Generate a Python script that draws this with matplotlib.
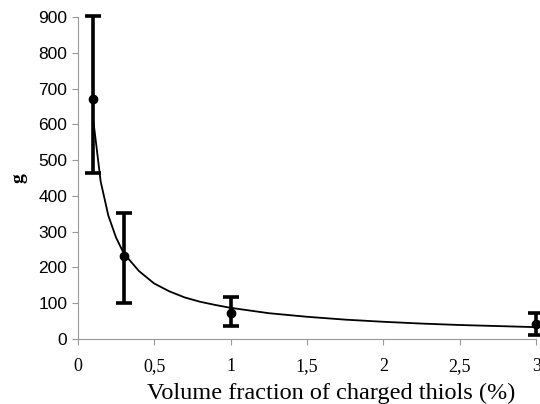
import matplotlib
matplotlib.use("Agg")
import matplotlib.pyplot as plt

# measured points with error bars
x_pts = [0.1, 0.3, 1.0, 3.0]
g_pts = [670, 233, 73, 41]
g_low = [464, 100, 37, 11]
g_high = [902, 351, 116, 72]

# fitted curve
x_fit = [0.1, 0.15, 0.2, 0.25, 0.3, 0.4, 0.5, 0.6, 0.7, 0.8, 0.9, 1.0,
         1.25, 1.5, 1.75, 2.0, 2.25, 2.5, 2.75, 3.0]
g_fit = [617, 440, 345, 284, 240, 190, 155, 133, 116, 104, 95, 87,
         72, 62, 54, 48, 43, 39, 36, 33]

x_ticks = [0, 0.5, 1, 1.5, 2, 2.5, 3]
x_ticklabels = ["0", "0,5", "1", "1,5", "2", "2,5", "3"]
y_ticks = list(range(0, 1000, 100))

fig = plt.figure(figsize=(5.4, 4.04), dpi=100)
ax = fig.add_axes([0.144, 0.161, 0.849, 0.797])

ax.plot(x_fit, g_fit, color="black", lw=1.3)
yerr = [[g - lo for g, lo in zip(g_pts, g_low)],
        [hi - g for g, hi in zip(g_pts, g_high)]]
eb = ax.errorbar(x_pts, g_pts, yerr=yerr, fmt="o", color="black", ms=6,
                 elinewidth=2.6, capsize=5.5, capthick=2.6)
for artist in eb.lines[0:1] + tuple(eb.lines[1]) + tuple(eb.lines[2]):
    artist.set_clip_on(False)

ax.set_xlim(0, 3)
ax.set_ylim(0, 900)
ax.set_xticks(x_ticks)
ax.set_xticklabels(x_ticklabels, family="Liberation Serif", fontsize=13)
ax.set_yticks(y_ticks)
ax.set_yticklabels([str(v) for v in y_ticks], family="Liberation Sans", fontsize=12.5)

for s in ["top", "right"]:
    ax.spines[s].set_visible(False)
for s in ["left", "bottom"]:
    ax.spines[s].set_color("#999999")
    ax.spines[s].set_linewidth(0.8)
ax.tick_params(colors="#999999", labelcolor="black", length=4, width=0.8)
ax.tick_params(axis="x", pad=10)

ax.set_xlabel("Volume fraction of charged thiols (%)", family="Liberation Serif",
              fontsize=17.5)
ax.xaxis.set_label_coords(0.552, -0.135)
ax.set_ylabel("g", family="Liberation Serif", fontsize=14, fontweight="bold",
              labelpad=8)

fig.savefig("out.png", dpi=100)
